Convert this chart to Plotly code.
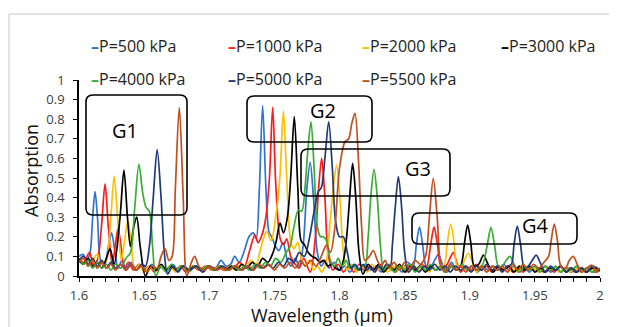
import plotly.graph_objects as go

# ---------------- data ----------------
series_names = ["P=500 kPa", "P=1000 kPa", "P=2000 kPa", "P=3000 kPa",
                "P=4000 kPa", "P=5000 kPa", "P=5500 kPa"]
series_colors = ["#2f74d0", "#ff1a1a", "#ffc000", "#000000",
                 "#3aad33", "#1f3a78", "#c0501e"]

x_tick_labels = ["1.6", "1.65", "1.7", "1.75", "1.8", "1.85", "1.9", "1.95", "2"]
y_tick_labels = ["0", "0.1", "0.2", "0.3", "0.4", "0.5", "0.6", "0.7", "0.8", "0.9", "1"]
group_labels = ["G1", "G2", "G3", "G4"]

p500 = [(1.600,0.10),(1.603,0.11),(1.606,0.08),(1.6085,0.12),(1.6105,0.30),(1.6123,0.43),(1.6142,0.30),(1.6165,0.08),(1.6195,0.05),(1.6225,0.15),
        (1.625,0.22),(1.6275,0.13),(1.630,0.04),(1.633,0.08),(1.636,0.04),(1.640,0.07),(1.644,0.03),(1.648,0.06),(1.652,0.03),(1.656,0.06),
        (1.660,0.03),(1.664,0.05),(1.668,0.03),(1.672,0.06),(1.676,0.03),(1.680,0.05),(1.685,0.03),(1.690,0.05),(1.695,0.03),(1.700,0.05),
        (1.705,0.04),(1.709,0.08),(1.713,0.05),(1.7165,0.06),(1.7195,0.10),(1.723,0.07),(1.727,0.13),(1.7305,0.20),(1.7338,0.22),(1.736,0.19),
        (1.7385,0.45),(1.741,0.87),(1.7435,0.45),(1.746,0.22),(1.748,0.20),(1.751,0.15),(1.7535,0.13),(1.7566,0.17),(1.760,0.08),(1.763,0.05),
        (1.766,0.09),(1.769,0.05),(1.772,0.15),(1.775,0.45),(1.7775,0.58),(1.780,0.40),(1.783,0.12),(1.786,0.05),(1.789,0.08),(1.792,0.04),
        (1.796,0.07),(1.800,0.03),(1.804,0.05),(1.808,0.02),(1.812,0.05),(1.816,0.03),(1.820,0.06),(1.824,0.03),(1.828,0.05),(1.832,0.02),
        (1.836,0.06),(1.840,0.03),(1.844,0.05),(1.848,0.02),(1.852,0.07),(1.8565,0.05),(1.859,0.16),(1.8614,0.25),(1.8638,0.16),(1.8665,0.05),
        (1.8695,0.04),(1.873,0.08),(1.876,0.11),(1.879,0.06),(1.882,0.03),(1.886,0.07),(1.890,0.03),(1.894,0.06),(1.898,0.03),(1.902,0.05),
        (1.906,0.02),(1.910,0.05),(1.914,0.03),(1.918,0.05),(1.922,0.03),(1.926,0.06),(1.930,0.03),(1.934,0.05),(1.938,0.02),(1.942,0.04),
        (1.946,0.02),(1.950,0.05),(1.954,0.03),(1.958,0.05),(1.962,0.02),(1.966,0.04),(1.970,0.02),(1.974,0.04),(1.978,0.02),(1.982,0.04),
        (1.986,0.02),(1.990,0.04),(1.994,0.02),(2.000,0.03)]

p1000 = [(1.600,0.09),(1.6035,0.07),(1.608,0.12),(1.611,0.06),(1.614,0.08),(1.6172,0.25),(1.620,0.47),(1.6225,0.25),(1.6255,0.06),(1.6278,0.15),
         (1.630,0.245),(1.6325,0.14),(1.635,0.04),(1.638,0.07),(1.642,0.03),(1.646,0.06),(1.650,0.03),(1.654,0.05),(1.658,0.02),(1.662,0.05),
         (1.666,0.03),(1.670,0.05),(1.674,0.03),(1.678,0.05),(1.682,0.02),(1.687,0.05),(1.692,0.03),(1.697,0.05),(1.702,0.03),(1.707,0.05),
         (1.711,0.03),(1.715,0.05),(1.719,0.04),(1.723,0.07),(1.727,0.05),(1.731,0.13),(1.7351,0.21),(1.7375,0.17),(1.7405,0.21),(1.7435,0.30),
         (1.7462,0.50),(1.7487,0.86),(1.7512,0.45),(1.7545,0.19),(1.757,0.16),(1.7595,0.19),(1.7625,0.10),(1.766,0.06),(1.769,0.04),(1.7725,0.09),
         (1.7775,0.02),(1.7815,0.20),(1.784,0.45),(1.7863,0.60),(1.7888,0.40),(1.7915,0.10),(1.795,0.03),(1.799,0.06),(1.803,0.02),(1.807,0.05),
         (1.811,0.02),(1.815,0.06),(1.819,0.03),(1.823,0.05),(1.827,0.02),(1.831,0.06),(1.835,0.03),(1.839,0.05),(1.843,0.02),(1.847,0.05),
         (1.851,0.02),(1.855,0.05),(1.859,0.03),(1.863,0.06),(1.8665,0.04),(1.870,0.16),(1.8726,0.25),(1.8752,0.16),(1.878,0.05),(1.8815,0.05),
         (1.8848,0.09),(1.8874,0.12),(1.890,0.07),(1.893,0.02),(1.897,0.05),(1.901,0.03),(1.905,0.06),(1.909,0.03),(1.913,0.05),(1.917,0.02),
         (1.921,0.05),(1.925,0.03),(1.929,0.05),(1.933,0.02),(1.937,0.04),(1.941,0.02),(1.945,0.05),(1.949,0.03),(1.953,0.04),(1.957,0.02),
         (1.961,0.04),(1.965,0.02),(1.969,0.05),(1.973,0.03),(1.977,0.04),(1.981,0.02),(1.985,0.04),(1.989,0.02),(1.993,0.04),(1.997,0.02),(2.000,0.03)]

p2000 = [(1.600,0.07),(1.604,0.09),(1.607,0.05),(1.6105,0.08),(1.614,0.11),(1.617,0.06),(1.6205,0.07),(1.6242,0.28),(1.627,0.51),(1.6298,0.28),
         (1.6325,0.08),(1.635,0.18),(1.6375,0.28),(1.640,0.17),(1.643,0.03),(1.6465,0.06),(1.650,0.02),(1.654,0.05),(1.658,0.03),(1.662,0.05),
         (1.666,0.03),(1.670,0.05),(1.674,0.02),(1.678,0.05),(1.683,0.03),(1.688,0.05),(1.693,0.03),(1.698,0.05),(1.703,0.03),(1.708,0.05),
         (1.712,0.03),(1.716,0.05),(1.720,0.03),(1.724,0.06),(1.728,0.04),(1.732,0.08),(1.736,0.06),(1.7395,0.14),(1.7441,0.226),(1.7475,0.18),
         (1.751,0.30),(1.7542,0.50),(1.7569,0.84),(1.7595,0.50),(1.7625,0.18),(1.765,0.14),(1.768,0.17),(1.771,0.08),(1.774,0.05),(1.777,0.08),
         (1.780,0.03),(1.783,0.05),(1.7865,0.02),(1.790,0.08),(1.7925,0.25),(1.7952,0.45),(1.7978,0.566),(1.8003,0.40),(1.803,0.12),(1.806,0.03),
         (1.809,0.06),(1.813,0.02),(1.817,0.05),(1.821,0.02),(1.825,0.06),(1.829,0.03),(1.833,0.05),(1.837,0.02),(1.841,0.05),(1.845,0.03),
         (1.849,0.05),(1.853,0.02),(1.857,0.05),(1.861,0.03),(1.865,0.05),(1.869,0.02),(1.873,0.06),(1.877,0.04),(1.8805,0.06),(1.8828,0.17),
         (1.8854,0.265),(1.888,0.17),(1.8905,0.05),(1.894,0.05),(1.8965,0.09),(1.899,0.116),(1.9015,0.08),(1.905,0.02),(1.909,0.05),(1.913,0.02),
         (1.917,0.05),(1.921,0.03),(1.925,0.05),(1.929,0.02),(1.933,0.04),(1.937,0.02),(1.941,0.05),(1.945,0.03),(1.949,0.04),(1.953,0.02),
         (1.957,0.05),(1.961,0.03),(1.965,0.04),(1.969,0.02),(1.973,0.04),(1.977,0.02),(1.981,0.04),(1.985,0.02),(1.989,0.04),(1.993,0.03),(1.997,0.04),(2.000,0.03)]

p3000 = [(1.600,0.08),(1.6035,0.06),(1.607,0.09),(1.6105,0.05),(1.614,0.07),(1.6175,0.04),(1.621,0.09),(1.6238,0.14),(1.627,0.06),(1.6315,0.30),
         (1.6345,0.54),(1.6372,0.30),(1.6395,0.15),(1.642,0.25),(1.6443,0.30),(1.647,0.15),(1.651,0.00),(1.655,0.05),(1.659,0.03),(1.663,0.06),
         (1.667,0.03),(1.671,0.05),(1.675,0.03),(1.679,0.05),(1.684,0.03),(1.689,0.05),(1.694,0.03),(1.699,0.05),(1.704,0.03),(1.709,0.05),
         (1.713,0.03),(1.717,0.05),(1.721,0.03),(1.725,0.06),(1.729,0.04),(1.733,0.07),(1.737,0.05),(1.741,0.09),(1.745,0.07),(1.749,0.12),
         (1.7515,0.18),(1.7543,0.27),(1.757,0.22),(1.760,0.30),(1.7625,0.50),(1.7653,0.813),(1.768,0.45),(1.7705,0.18),(1.773,0.16),(1.776,0.12),
         (1.779,0.10),(1.782,0.09),(1.785,0.07),(1.788,0.08),(1.791,0.05),(1.794,0.06),(1.797,0.04),(1.800,0.03),(1.803,0.08),(1.8055,0.20),
         (1.8078,0.40),(1.8101,0.575),(1.8125,0.40),(1.815,0.12),(1.818,0.01),(1.822,0.06),(1.826,0.03),(1.830,0.06),(1.834,0.02),(1.838,0.05),
         (1.842,0.03),(1.846,0.06),(1.850,0.02),(1.854,0.05),(1.858,0.03),(1.862,0.05),(1.866,0.02),(1.870,0.05),(1.874,0.03),(1.878,0.05),
         (1.882,0.02),(1.886,0.05),(1.890,0.03),(1.8935,0.06),(1.896,0.17),(1.8984,0.26),(1.9008,0.17),(1.9035,0.05),(1.907,0.06),(1.9105,0.107),
         (1.914,0.06),(1.918,0.02),(1.922,0.05),(1.926,0.03),(1.930,0.05),(1.934,0.02),(1.938,0.05),(1.942,0.03),(1.946,0.05),(1.950,0.02),
         (1.954,0.04),(1.958,0.02),(1.962,0.04),(1.966,0.03),(1.970,0.05),(1.974,0.02),(1.978,0.04),(1.982,0.02),(1.986,0.04),(1.990,0.02),(1.994,0.04),(2.000,0.03)]

p4000 = [(1.600,0.09),(1.6035,0.06),(1.607,0.08),(1.6105,0.04),(1.614,0.07),(1.6175,0.04),(1.621,0.06),(1.6245,0.03),(1.628,0.06),(1.632,0.04),
         (1.636,0.09),(1.6395,0.12),(1.6428,0.35),(1.646,0.57),(1.649,0.42),(1.6515,0.35),(1.654,0.33),(1.6565,0.15),(1.659,0.00),(1.663,0.05),
         (1.667,0.02),(1.671,0.06),(1.675,0.03),(1.679,0.05),(1.684,0.02),(1.689,0.05),(1.694,0.03),(1.699,0.05),(1.704,0.03),(1.709,0.05),
         (1.714,0.03),(1.719,0.05),(1.723,0.03),(1.727,0.05),(1.731,0.03),(1.735,0.06),(1.739,0.04),(1.743,0.07),(1.747,0.05),(1.751,0.09),
         (1.755,0.07),(1.759,0.12),(1.762,0.15),(1.765,0.25),(1.7684,0.336),(1.771,0.33),(1.7735,0.45),(1.7758,0.65),(1.7781,0.787),(1.7805,0.55),
         (1.783,0.25),(1.7855,0.20),(1.7876,0.20),(1.790,0.18),(1.793,0.08),(1.796,0.05),(1.799,0.09),(1.802,0.05),(1.805,0.08),(1.808,0.04),
         (1.811,0.06),(1.814,0.03),(1.817,0.05),(1.8195,0.05),(1.822,0.20),(1.824,0.40),(1.8265,0.544),(1.829,0.40),(1.8315,0.15),(1.834,0.03),
         (1.838,0.06),(1.842,0.02),(1.846,0.05),(1.850,0.03),(1.854,0.06),(1.858,0.02),(1.862,0.05),(1.866,0.03),(1.870,0.06),(1.874,0.03),
         (1.878,0.05),(1.882,0.02),(1.886,0.05),(1.890,0.03),(1.894,0.06),(1.898,0.03),(1.902,0.05),(1.906,0.03),(1.910,0.06),(1.9135,0.16),
         (1.9163,0.248),(1.919,0.16),(1.922,0.05),(1.925,0.05),(1.928,0.08),(1.931,0.10),(1.934,0.06),(1.938,0.02),(1.942,0.05),(1.946,0.03),
         (1.950,0.05),(1.954,0.02),(1.958,0.05),(1.962,0.03),(1.966,0.05),(1.970,0.02),(1.974,0.04),(1.978,0.03),(1.982,0.05),(1.986,0.03),(1.990,0.04),(1.994,0.02),(2.000,0.04)]

p5000 = [(1.600,0.08),(1.6035,0.10),(1.607,0.06),(1.6105,0.09),(1.614,0.05),(1.6175,0.08),(1.621,0.04),(1.6245,0.07),(1.628,0.04),(1.632,0.06),
         (1.636,0.03),(1.640,0.06),(1.644,0.03),(1.648,0.06),(1.651,0.05),(1.654,0.15),(1.657,0.40),(1.660,0.645),(1.663,0.40),(1.6655,0.12),
         (1.668,0.01),(1.672,0.05),(1.676,0.02),(1.680,0.05),(1.685,0.03),(1.690,0.05),(1.695,0.02),(1.700,0.05),(1.705,0.03),(1.710,0.05),
         (1.715,0.03),(1.720,0.05),(1.725,0.03),(1.729,0.05),(1.733,0.03),(1.737,0.06),(1.741,0.04),(1.745,0.06),(1.749,0.04),(1.753,0.07),
         (1.757,0.05),(1.761,0.09),(1.765,0.07),(1.769,0.12),(1.773,0.10),(1.7765,0.18),(1.7805,0.33),(1.7837,0.43),(1.786,0.45),(1.7888,0.60),
         (1.7917,0.787),(1.7945,0.55),(1.797,0.28),(1.800,0.20),(1.803,0.20),(1.806,0.12),(1.809,0.04),(1.812,0.06),(1.815,0.03),(1.818,0.06),
         (1.821,0.03),(1.824,0.05),(1.827,0.02),(1.830,0.05),(1.833,0.03),(1.836,0.06),(1.839,0.05),(1.8405,0.15),(1.8428,0.35),(1.8452,0.507),
         (1.8477,0.35),(1.850,0.12),(1.853,0.02),(1.857,0.05),(1.861,0.02),(1.865,0.05),(1.869,0.03),(1.873,0.06),(1.877,0.03),(1.881,0.05),
         (1.885,0.02),(1.889,0.05),(1.893,0.03),(1.897,0.05),(1.901,0.02),(1.905,0.05),(1.909,0.03),(1.913,0.06),(1.917,0.03),(1.921,0.05),
         (1.925,0.02),(1.929,0.05),(1.932,0.06),(1.934,0.16),(1.9365,0.255),(1.939,0.16),(1.942,0.04),(1.945,0.05),(1.948,0.08),(1.951,0.107),
         (1.954,0.07),(1.958,0.02),(1.962,0.05),(1.966,0.03),(1.970,0.05),(1.974,0.02),(1.978,0.04),(1.982,0.02),(1.986,0.04),(1.990,0.02),(1.994,0.05),(2.000,0.03)]

p5500 = [(1.600,0.07),(1.6035,0.09),(1.607,0.05),(1.6105,0.08),(1.614,0.04),(1.6175,0.07),(1.621,0.04),(1.6245,0.06),(1.628,0.03),(1.632,0.06),
         (1.636,0.03),(1.640,0.06),(1.644,0.03),(1.648,0.05),(1.652,0.02),(1.656,0.05),(1.660,0.04),(1.663,0.10),(1.666,0.14),(1.669,0.08),
         (1.6715,0.10),(1.674,0.45),(1.677,0.86),(1.680,0.40),(1.6827,0.00),(1.6858,0.06),(1.6888,0.10),(1.692,0.05),(1.696,0.03),(1.700,0.05),
         (1.705,0.03),(1.710,0.04),(1.715,0.03),(1.720,0.05),(1.725,0.03),(1.730,0.05),(1.734,0.03),(1.738,0.06),(1.742,0.04),(1.746,0.06),
         (1.750,0.03),(1.754,0.06),(1.758,0.04),(1.762,0.07),(1.766,0.04),(1.770,0.08),(1.774,0.05),(1.778,0.08),(1.782,0.05),(1.786,0.10),
         (1.790,0.158),(1.793,0.12),(1.7965,0.25),(1.800,0.55),(1.8042,0.685),(1.807,0.70),(1.8095,0.78),(1.8119,0.83),(1.8145,0.60),(1.817,0.25),
         (1.8195,0.08),(1.823,0.10),(1.826,0.13),(1.829,0.08),(1.832,0.05),(1.835,0.08),(1.838,0.04),(1.842,0.07),(1.846,0.03),(1.850,0.07),
         (1.854,0.04),(1.858,0.08),(1.862,0.06),(1.866,0.10),(1.869,0.30),(1.872,0.498),(1.875,0.30),(1.878,0.05),(1.881,0.02),(1.885,0.06),
         (1.889,0.03),(1.893,0.05),(1.897,0.02),(1.901,0.05),(1.905,0.03),(1.909,0.05),(1.913,0.02),(1.917,0.05),(1.921,0.03),(1.925,0.05),
         (1.929,0.02),(1.933,0.06),(1.937,0.03),(1.941,0.06),(1.945,0.03),(1.949,0.06),(1.953,0.04),(1.957,0.07),(1.9605,0.10),(1.9625,0.18),
         (1.9649,0.265),(1.9673,0.18),(1.970,0.05),(1.9735,0.04),(1.9765,0.08),(1.9795,0.10),(1.9825,0.06),(1.986,0.02),(1.990,0.04),(1.9936,0.056),(1.997,0.03),(2.000,0.04)]

series_points = [p500, p1000, p2000, p3000, p4000, p5000, p5500]

# ---------------- figure ----------------
OFF = 8                      # page offset of the plot div inside the browser window
REF_W, REF_H = 617, 327      # reference picture size
W, H = REF_W - OFF, REF_H - OFF
L_REF, R_REF, T_REF, B_REF = 79, 600, 80, 276   # plot area in reference pixels
ML, MT = L_REF - OFF, T_REF - OFF
PW, PH = R_REF - L_REF, B_REF - T_REF
MR, MB = W - ML - PW, H - MT - PH
X0, X1 = 1.6, 2.0
FONT = "Open Sans"


def px_to_data(px, py):
    return X0 + (px - L_REF) / PW * (X1 - X0), (B_REF - py) / PH


def px_to_paper(px, py):
    return (px - L_REF) / PW, (B_REF - py) / PH


fig = go.Figure()
for name, pts, col in zip(series_names, series_points, series_colors):
    fig.add_trace(go.Scatter(
        x=[p[0] for p in pts], y=[p[1] for p in pts], mode="lines", name=name,
        line=dict(color=col, width=1.7, shape="spline", smoothing=0.9),
        showlegend=False, hoverinfo="skip"))

# ticks
xt_vals = [round(X0 + 0.01 * i, 2) for i in range(41)]
xt_text = []
for v in xt_vals:
    lab = ""
    for t in x_tick_labels:
        if abs(float(t) - v) < 1e-9:
            lab = t
    xt_text.append(lab)
yt_vals = [float(t) for t in y_tick_labels]

tickfont = dict(family=FONT, size=13, color="#404040")
fig.update_layout(
    width=W, height=H, margin=dict(l=ML, r=MR, t=MT, b=MB),
    paper_bgcolor="white", plot_bgcolor="white",
    xaxis=dict(range=[X0, X1], tickmode="array", tickvals=xt_vals, ticktext=xt_text,
               ticks="outside", ticklen=4, tickwidth=1.3, tickcolor="black",
               showline=True, linecolor="black", linewidth=1.6, showgrid=False,
               zeroline=False, tickfont=tickfont, ticklabelstandoff=3),
    yaxis=dict(range=[0, 1], tickmode="array", tickvals=yt_vals, ticktext=y_tick_labels,
               ticks="outside", ticklen=4, tickwidth=1.3, tickcolor="black",
               showline=True, linecolor="black", linewidth=1.6, showgrid=False,
               zeroline=False, tickfont=tickfont, ticklabelstandoff=6),
    xaxis2=dict(overlaying="x", matches="x", anchor="y", tickmode="array", tickvals=xt_vals,
                ticks="inside", ticklen=3, tickwidth=1.3, tickcolor="black",
                showticklabels=False, showline=False, showgrid=False, zeroline=False),
    yaxis2=dict(overlaying="y", matches="y", anchor="x", tickmode="array", tickvals=yt_vals,
                ticks="inside", ticklen=3, tickwidth=1.3, tickcolor="black",
                showticklabels=False, showline=False, showgrid=False, zeroline=False),
    showlegend=False,
)

# outer grey frame
bx0, by1 = px_to_paper(9, 14)
bx1, by0 = px_to_paper(660, 360)
fig.add_shape(type="rect", xref="paper", yref="paper", x0=bx0, x1=bx1, y0=by0, y1=by1,
              line=dict(color="#c4c4c4", width=1), fillcolor="rgba(0,0,0,0)", layer="below")


# rounded group boxes (reference pixel geometry -> data coords)
def rounded_box(l, t, r, b, rad=7):
    def d(px, py):
        x, y = px_to_data(px, py)
        return f"{x:.5f},{y:.5f}"
    return (f"M {d(l + rad, t)} L {d(r - rad, t)} Q {d(r, t)} {d(r, t + rad)} "
            f"L {d(r, b - rad)} Q {d(r, b)} {d(r - rad, b)} L {d(l + rad, b)} "
            f"Q {d(l, b)} {d(l, b - rad)} L {d(l, t + rad)} Q {d(l, t)} {d(l + rad, t)} Z")


boxes_px = [(86, 95, 187, 215), (247, 96, 372, 142), (301, 149, 450, 196), (412, 213, 577, 244)]
labels_px = [(125, 130), (323, 110), (418, 168), (535, 225)]
for (l, t, r, b), (lx, ly), g in zip(boxes_px, labels_px, group_labels):
    fig.add_shape(type="path", xref="x", yref="y", path=rounded_box(l, t, r, b),
                  line=dict(color="black", width=1.6), fillcolor="rgba(0,0,0,0)")
    ax, ay = px_to_data(lx, ly)
    fig.add_annotation(x=ax, y=ay, xref="x", yref="y", text=g, showarrow=False,
                       xanchor="center", yanchor="middle",
                       font=dict(family=FONT, size=20, color="black"))

# legend (text entries with coloured dash)
leg_pos = [(89, 46), (226, 46), (360, 46), (499, 46), (89, 79), (226, 79), (360, 79)]
for (lx, ly), name, col in zip(leg_pos, series_names, series_colors):
    ax, ay = px_to_paper(lx, ly)
    fig.add_annotation(x=ax, y=ay, xref="paper", yref="paper", xanchor="left", yanchor="middle",
                       text=f'<b><span style="color:{col}">–</span></b>{name}', showarrow=False,
                       font=dict(family=FONT, size=16, color="#222222"))

# axis titles
tx, ty = px_to_paper(31, 171)
fig.add_annotation(x=tx, y=ty, xref="paper", yref="paper", text="Absorption", textangle=-90,
                   xanchor="center", yanchor="middle",
                   showarrow=False, font=dict(family=FONT, size=18, color="#111111"))
tx, ty = px_to_paper(322, 315)
fig.add_annotation(x=tx, y=ty, xref="paper", yref="paper", text="Wavelength (µm)",
                   xanchor="center", yanchor="middle",
                   showarrow=False, font=dict(family=FONT, size=18, color="#111111"))

fig.write_html("out.html")
